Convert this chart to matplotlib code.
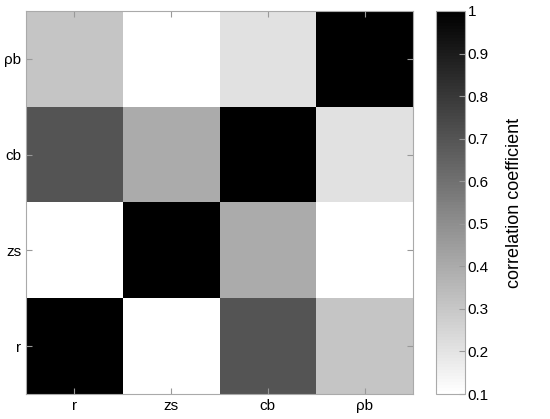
import numpy as np
import matplotlib.pyplot as plt

plt.rcParams["font.family"] = ["Liberation Sans", "DejaVu Sans"]

# ---------- data ----------
labels = ["r", "zs", "cb", "ρb"]
# rows follow labels (r at bottom), columns follow labels
row_r = [1.00, 0.10, 0.70, 0.31]
row_zs = [0.10, 1.00, 0.40, 0.10]
row_cb = [0.70, 0.40, 1.00, 0.21]
row_pb = [0.31, 0.10, 0.21, 1.00]
cbar_ticks = [0.1, 0.2, 0.3, 0.4, 0.5, 0.6, 0.7, 0.8, 0.9, 1.0]

corr = np.array([row_r, row_zs, row_cb, row_pb])

# ---------- plot ----------
fig = plt.figure(figsize=(5.5, 4.19), dpi=100)
ax = fig.add_axes([26 / 550, 1 - 394 / 419, (413 - 26) / 550, (394 - 11) / 419])
cax = fig.add_axes([436 / 550, 1 - 394 / 419, (465 - 436) / 550, (394 - 11) / 419])

cmap = plt.get_cmap("gray_r", 128)
im = ax.pcolormesh(np.arange(5), np.arange(5), corr, cmap=cmap, vmin=0.1, vmax=1.0)

ax.set_xticks(np.arange(4) + 0.5)
ax.set_xticklabels(labels)
ax.set_yticks(np.arange(4) + 0.5)
ax.set_yticklabels(labels)
ax.set_xlim(0, 4)
ax.set_ylim(0, 4)
ax.tick_params(direction="in", length=4, color="#999999", labelsize=11,
               top=True, right=True)
for s in ax.spines.values():
    s.set_color("#aaaaaa")
    s.set_linewidth(0.8)

cb = fig.colorbar(im, cax=cax, ticks=cbar_ticks)
cb.ax.set_yticklabels(["0.1", "0.2", "0.3", "0.4", "0.5", "0.6", "0.7", "0.8", "0.9", "1"])
cb.ax.tick_params(direction="in", length=4, color="#999999", labelsize=11, pad=2)
cb.outline.set_edgecolor("#aaaaaa")
cb.outline.set_linewidth(0.8)
cb.set_label("correlation coefficient", fontsize=13, labelpad=12)

fig.savefig("out.png", dpi=100)
